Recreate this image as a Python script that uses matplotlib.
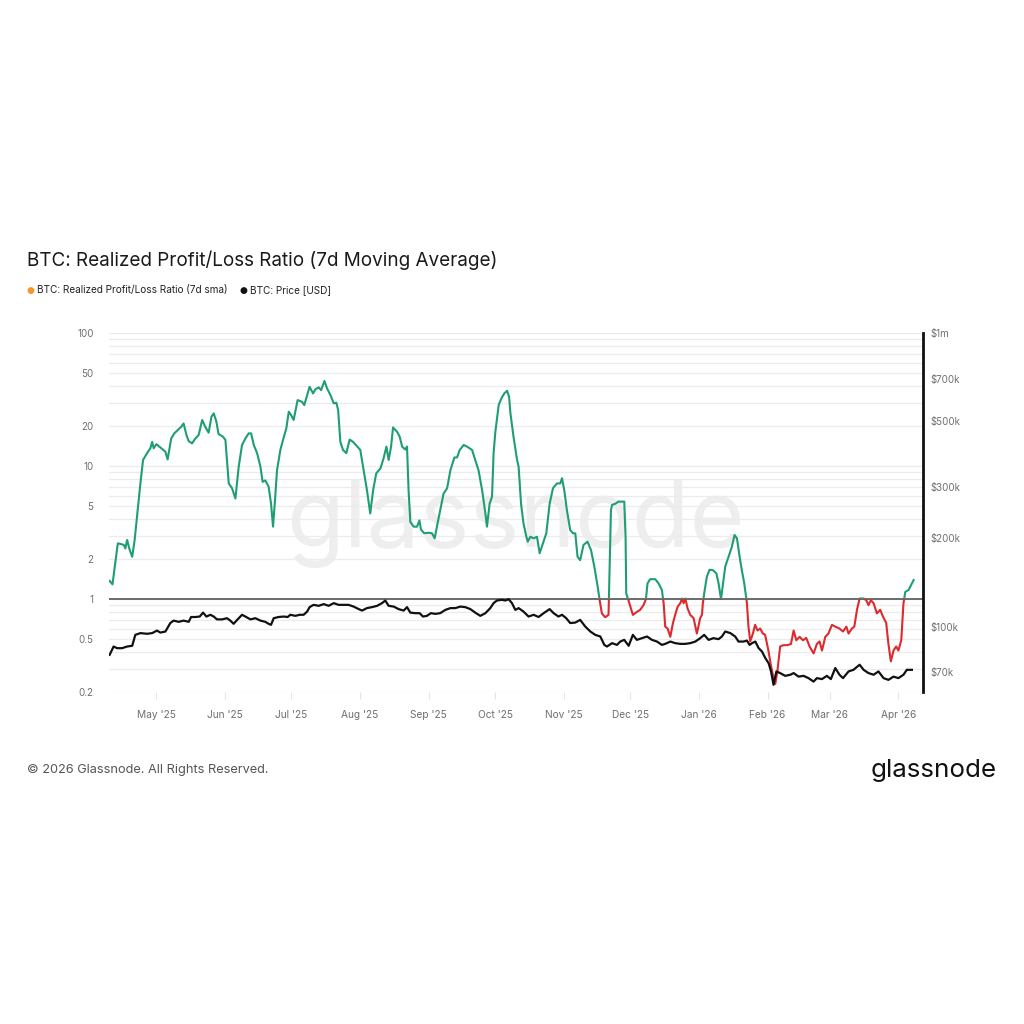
import matplotlib
matplotlib.use("Agg")
import matplotlib.pyplot as plt
import matplotlib.dates as mdates
import matplotlib.transforms as mtransforms
from matplotlib.patches import Rectangle
from matplotlib.ticker import FixedLocator, NullFormatter, NullLocator, LogLocator
import numpy as np
import pandas as pd

plt.rcParams['font.family'] = ['Inter', 'DejaVu Sans']

# ---------------- data ----------------
start_date = "2025-04-01"

ratio_day = [8.9, 10.2, 12.6, 14.1, 15.3, 16.0, 16.8, 18.0, 19.1, 20.2, 21.6, 22.8, 24.0, 25.8, 27.3,
             28.1, 28.8, 30.0, 31.8, 34.1, 35.1, 36.7, 38.1, 40.1, 41.2, 42.3, 43.6, 44.6, 46.1, 47.6,
             49.1, 50.7, 52.1, 53.6, 54.9, 55.9, 57.1, 58.1, 60.1, 61.2, 62.7, 64.2, 65.7, 67.2, 68.7,
             70.2, 71.7, 72.8, 74.0, 75.5, 77.0, 78.0, 79.2, 80.7, 81.8, 82.7, 83.7, 84.5, 86.0, 87.2,
             88.7, 89.8, 90.8, 92.0, 93.8, 95.8, 96.8, 98.3, 99.2, 100.8, 101.8, 103.3, 104.4, 105.9,
             107.1, 108.6, 110.1, 111.3, 112.1, 113.1, 114.3, 115.8, 117.3, 118.8, 120.6, 122.1, 123.6,
             125.1, 126.6, 127.9, 129.3, 131.2, 132.6, 133.9, 134.9, 136.0, 136.9, 138.7, 139.9, 141.0,
             142.4, 143.2, 143.9, 144.7, 146.2, 147.7, 148.8, 149.5, 151.0, 153.0, 154.5, 155.7, 156.7,
             158.2, 159.7, 161.3, 162.8, 164.6, 165.8, 167.0, 168.8, 170.3, 172.6, 174.0, 175.5, 177.1,
             178.6, 179.3, 180.5, 181.6, 182.3, 183.1, 184.6, 185.8, 187.1, 188.4, 189.3, 189.9, 191.3,
             192.9, 193.6, 194.7, 195.8, 197.1, 197.7, 198.9, 200.4, 201.9, 203.1, 204.6, 206.1, 207.6,
             209.1, 210.9, 212.4, 213.2, 214.2, 215.4, 216.9, 218.2, 219.2, 220.2, 221.4, 222.9, 224.7,
             226.3, 227.8, 229.3, 230.2, 231.2, 232.7, 234.2, 235.3, 235.8, 237.2, 238.7, 240.3, 241.3,
             241.9, 242.2, 243.2, 244.3, 245.2, 247.0, 248.5, 250.0, 251.1, 251.8, 253.0, 255.3, 256.8,
             258.3, 259.1, 259.8, 260.9, 262.1, 263.3, 264.3, 265.4, 266.6, 267.4, 268.1, 268.9, 269.9,
             271.1, 272.6, 274.1, 275.6, 276.4, 276.8, 277.4, 278.6, 279.8, 281.3, 282.9, 283.9, 285.0,
             285.9, 286.9, 288.4, 289.9, 291.1, 292.2, 293.4, 294.4, 295.5, 296.7, 297.4, 298.2, 299.4,
             300.4, 301.5, 302.7, 303.9, 304.9, 306.4, 307.5, 308.4, 309.5, 310.5, 311.7, 313.2, 315.0,
             316.6, 317.8, 319.0, 320.5, 322.0, 323.5, 325.0, 326.8, 328.3, 329.5, 330.6, 332.1, 333.5,
             335.1, 336.6, 338.5, 340.1, 341.6, 342.6, 344.1, 345.2, 346.4, 347.6, 349.4, 350.6, 351.6,
             352.7, 353.9, 355.4, 356.9, 358.1, 359.6, 360.6, 361.7, 362.9, 364.1, 365.1, 366.4, 367.4,
             368.2, 369.7, 370.8, 372.0]

ratio_value = [1.37, 1.29, 2.62, 2.59, 2.55, 2.4, 2.78, 2.33, 2.08, 2.78, 4.67, 7.4, 11.1, 12.5, 13.6,
               15.2, 13.6, 14.6, 13.8, 12.8, 11.2, 16.1, 17.6, 18.9, 19.7, 20.9, 17.1, 15.4, 14.8, 16.1,
               17.1, 22.2, 19.7, 17.8, 23.5, 24.9, 21.6, 17.4, 16.6, 15.7, 7.4, 6.8, 5.7, 9.9, 14.4,
               16.1, 17.6, 17.6, 14.4, 12.5, 9.9, 7.6, 7.8, 7.0, 5.2, 3.5, 5.9, 9.3, 13.2, 15.7,
               19.2, 25.6, 24.2, 22.2, 31.3, 30.4, 28.7, 35.1, 39.4, 35.1, 37.7, 39.0, 37.2, 43.6,
               38.3, 34.2, 29.6, 29.9, 26.3, 15.2, 13.2, 12.5, 15.8, 15.2, 14.1, 13.2, 9.3,
               6.6, 4.4, 6.6, 8.8, 9.6, 11.4, 14.0, 11.1, 14.0, 19.5, 18.1, 16.6, 14.0,
               13.3, 14.0, 6.6, 3.8, 3.5, 3.5, 3.9, 3.33, 3.12, 3.15, 3.12, 2.86, 3.5,
               4.67, 6.2, 6.8, 9.3, 11.6, 11.6, 13.2, 14.4, 14.0, 13.2, 11.1, 9.3, 6.6,
               4.4, 3.5, 5.2, 5.9, 12.5, 18.1, 28.7, 32.2, 35.1, 36.8, 33.1, 24.9, 16.6,
               11.1, 9.9, 5.2, 3.7, 2.94, 2.7, 2.94, 2.86, 2.94, 2.21, 2.62, 3.12, 5.2,
               6.8, 7.4, 7.4, 8.1, 6.6, 4.67, 3.3, 3.12, 3.12, 2.08, 1.96, 2.55, 2.7,
               2.33, 1.75, 1.24, 0.98, 0.78, 0.73, 0.76, 4.67, 5.1, 5.2, 5.4, 5.4, 5.4,
               2.94, 1.1, 0.98, 0.85, 0.76, 0.8, 0.83, 0.9, 1.0, 1.31, 1.41, 1.41, 1.31,
               1.17, 0.93, 0.62, 0.6, 0.52, 0.66, 0.76, 0.875, 0.93, 1.01, 0.93, 1.01, 0.85,
               0.76, 0.72, 0.55, 0.72, 0.76, 0.93, 1.1, 1.47, 1.66, 1.65, 1.56, 1.31, 1.0,
               1.31, 1.75, 2.08, 2.47, 3.03, 2.86, 2.08, 1.65, 1.31, 0.93, 0.62, 0.48, 0.55,
               0.64, 0.58, 0.6, 0.55, 0.54, 0.41, 0.32, 0.27, 0.23, 0.29, 0.44, 0.45, 0.45,
               0.46, 0.58, 0.49, 0.52, 0.49, 0.51, 0.44, 0.39, 0.46, 0.48, 0.41, 0.52, 0.55,
               0.64, 0.62, 0.6, 0.57, 0.62, 0.55, 0.6, 0.62, 0.83, 1.01, 1.01, 0.98, 0.9,
               0.98, 0.93, 0.78, 0.83, 0.74, 0.66, 0.46, 0.34, 0.41, 0.44, 0.41, 0.49, 0.93,
               1.13, 1.17, 1.27, 1.39]

price_day = [8.9, 10.7, 12.3, 14.5, 16.8, 19.1, 20.5, 22.8, 25.8, 28.1, 30.3, 31.8, 34.1, 36.3, 37.8,
             40.1, 42.3, 44.6, 45.7, 47.6, 49.6, 51.1, 52.6, 54.4, 55.9, 57.4, 59.7, 61.9, 63.4, 64.9,
             66.5, 68.7, 70.2, 72.5, 74.7, 77.0, 79.2, 80.7, 81.8, 83.0, 85.2, 87.5, 89.3, 90.5, 92.8,
             94.7, 96.5, 98.1, 99.2, 101.0, 103.3, 105.6, 107.8, 110.1, 112.3, 114.6, 116.8, 119.1,
             121.4, 122.9, 125.1, 127.4, 129.7, 131.9, 133.4, 134.9, 137.2, 139.4, 141.7, 143.2,
             144.7, 146.9, 148.9, 150.4, 152.2, 154.0, 156.0, 158.2, 160.5, 162.8, 165.0, 167.3,
             169.5, 171.8, 174.0, 176.3, 178.6, 180.8, 182.3, 183.8, 186.1, 187.6, 189.1, 190.6,
             192.1, 193.6, 195.8, 198.1, 200.4, 202.6, 204.9, 207.6, 209.4, 211.6, 213.2, 215.1,
             216.9, 219.2, 221.4, 223.7, 226.0, 228.2, 230.5, 232.3, 233.5, 235.8, 238.0, 239.5,
             241.3, 243.3, 245.2, 247.0, 249.3, 251.6, 253.8, 256.1, 258.3, 259.8, 262.1, 264.3,
             266.6, 268.9, 271.1, 273.4, 275.6, 277.4, 279.4, 281.6, 283.9, 285.4, 286.9, 289.2,
             291.4, 292.9, 295.2, 296.7, 297.9, 299.0, 300.5, 302.0, 303.5, 305.0, 306.5, 307.6,
             308.7, 310.0, 311.7, 314.0, 316.3, 317.8, 320.0, 322.3, 324.5, 326.8, 328.3, 330.6,
             332.8, 334.6, 336.6, 338.5, 340.1, 342.6, 344.8, 347.6, 349.4, 351.6, 353.9, 356.1,
             358.4, 360.6, 362.9, 365.1, 367.4, 368.9, 371.2]

price_kusd = [80.3, 85.7, 84.6, 84.6, 85.7, 86.2, 93.9, 95.2, 94.7, 95.2, 97.1, 95.6, 96.4, 103, 105,
              104, 105, 104, 108, 108, 108.4, 111.8, 108.4, 109.9, 108.4, 106, 106, 107, 105, 102.4,
              105.6, 109.9, 108.4, 106, 107, 105, 104, 102.4, 101.6, 107, 108, 108.4, 108, 109.9, 109,
              109.9, 109.9, 112.7, 116.7, 118.8, 117.9, 119.5, 117.9, 120.4, 118.8, 118.8, 118.8, 117.2,
              114.9, 113.6, 115.8, 116.7, 117.9, 120.4, 122.9, 117.9, 117.2, 114.9, 113.6, 116.7,
              111.8, 111.3, 111.3, 108.4, 109, 111.3, 110.7, 111.3, 114.2, 115.8, 115.8, 117.2,
              116.7, 114.9, 111.8, 109, 111.3, 115.8, 120.4, 122.9, 123.6, 122.9, 124.2, 120.4,
              114.2, 115.8, 112.7, 108.4, 109.9, 108, 111.3, 114.9, 111.3, 108.4, 109.9, 107,
              103, 103.4, 105.6, 100.2, 96.4, 93.9, 92.7, 86.8, 85.7, 88, 86.8, 89.1,
              90.3, 86.2, 93.9, 90.3, 91.5, 92.7, 90.3, 89.1, 86.8, 87.5, 89.1, 88,
              87.5, 87.5, 88, 89.1, 91.5, 93.9, 90.3, 91.5, 90.8, 92.7, 96.4, 95.2,
              92.7, 89.1, 89.1, 89.8, 86.8, 88, 89.1, 84.6, 82.4, 78.3, 75.2, 70.5,
              63.5, 70.5, 69.6, 68.1, 68.7, 69.6, 67.7, 68.1, 66.9, 65.1, 66.9, 66.4,
              68.1, 66.4, 72.4, 68.7, 66.9, 70.5, 71.4, 74.3, 71.4, 69.6, 68.7, 70.5,
              66.9, 66, 67.7, 66.9, 68.7, 71.4, 71.4]

ratio_ticks = [0.2, 0.5, 1, 2, 5, 10, 20, 50, 100]
ratio_tick_labels = ["0.2", "0.5", "1", "2", "5", "10", "20", "50", "100"]
price_ticks = [70000, 100000, 200000, 300000, 500000, 700000, 1000000]
price_tick_labels = ["$70k", "$100k", "$200k", "$300k", "$500k", "$700k", "$1m"]
month_ticks = ["2025-05-01", "2025-06-01", "2025-07-01", "2025-08-01", "2025-09-01", "2025-10-01",
               "2025-11-01", "2025-12-01", "2026-01-01", "2026-02-01", "2026-03-01", "2026-04-01"]
month_labels = ["May '25", "Jun '25", "Jul '25", "Aug '25", "Sep '25", "Oct '25",
                "Nov '25", "Dec '25", "Jan '26", "Feb '26", "Mar '26", "Apr '26"]

# ---------------- styling ----------------
GREEN = "#1e9e72"
RED = "#dc2a2f"
GRID = "#ececec"
TICK_COLOR = "#6f6f6f"

start = pd.Timestamp(start_date)
ratio_dates = start + pd.to_timedelta(ratio_day, unit="D")
price_dates = start + pd.to_timedelta(price_day, unit="D")
price_usd = np.array(price_kusd) * 1000.0

fig = plt.figure(figsize=(10.24, 10.24), dpi=100)
fig.patch.set_facecolor("white")

ax = fig.add_axes([0.1064, 0.3242, 0.7945, 0.3506])
ax.set_yscale("log")
ax.set_ylim(0.2, 100)
ax.set_xlim(start + pd.Timedelta(days=8.6), start + pd.Timedelta(days=376))

# gridlines (major + minor log)
ax.yaxis.set_major_locator(FixedLocator(ratio_ticks))
ax.set_yticklabels(ratio_tick_labels)
ax.yaxis.set_minor_locator(LogLocator(base=10, subs=np.arange(2, 10)))
ax.yaxis.set_minor_formatter(NullFormatter())
ax.grid(which="both", axis="y", color=GRID, lw=0.9, zorder=0)
ax.tick_params(axis="y", which="both", length=0, pad=11, labelsize=7, labelcolor=TICK_COLOR)

ax.xaxis.set_major_locator(FixedLocator(mdates.date2num(pd.to_datetime(month_ticks))))
ax.set_xticklabels(month_labels)
ax.tick_params(axis="x", length=5, color="#e4e4e4", pad=8, labelsize=7.3, labelcolor=TICK_COLOR)

for s in ax.spines.values():
    s.set_visible(False)

# watermark
ax.text(0.5, 0.47, "glassnode", transform=ax.transAxes, ha="center", va="center",
        fontsize=68, color="#eeeeee", zorder=0.5)

# ratio line, green above 1 and red below 1
blend = mtransforms.blended_transform_factory(ax.transAxes, ax.transData)
above = Rectangle((0, 1), 1, 1e4, transform=blend, facecolor="none", edgecolor="none")
below = Rectangle((0, 1e-4), 1, 1 - 1e-4, transform=blend, facecolor="none", edgecolor="none")
ax.add_patch(above)
ax.add_patch(below)
g_line, = ax.plot(ratio_dates, ratio_value, color=GREEN, lw=1.5, zorder=3)
r_line, = ax.plot(ratio_dates, ratio_value, color=RED, lw=1.5, zorder=3)
g_line.set_clip_path(above)
r_line.set_clip_path(below)

ax.axhline(1, color="#555555", lw=1.2, zorder=2)

# price axis
ax2 = ax.twinx()
ax2.set_yscale("log")
ax2.set_ylim(60000, 1000000)
ax2.plot(price_dates, price_usd, color="#111111", lw=1.6, zorder=3)
ax2.yaxis.set_major_locator(FixedLocator(price_ticks))
ax2.set_yticklabels(price_tick_labels)
ax2.yaxis.set_minor_locator(NullLocator())
ax2.tick_params(axis="y", which="both", length=0, pad=6, labelsize=7, labelcolor=TICK_COLOR)
for name, s in ax2.spines.items():
    s.set_visible(name == "right")
ax2.spines["right"].set_color("#111111")
ax2.spines["right"].set_linewidth(2)

# titles, legend, footer
fig.text(0.0264, 1 - 260 / 1024, "BTC: Realized Profit/Loss Ratio (7d Moving Average)",
         fontsize=13.6, color="#1a1a1a", ha="left", va="center")
fig.text(30 / 1024, 1 - 290 / 1024, "●", color="#f2992e", fontsize=6.5, ha="center", va="center",
         family=["DejaVu Sans"])
fig.text(37 / 1024, 1 - 290 / 1024, "BTC: Realized Profit/Loss Ratio (7d sma)", fontsize=7.2,
         color="#222222", ha="left", va="center")
fig.text(243 / 1024, 1 - 290 / 1024, "●", color="#111111", fontsize=6.5, ha="center", va="center",
         family=["DejaVu Sans"])
fig.text(250 / 1024, 1 - 290 / 1024, "BTC: Price [USD]", fontsize=7.2,
         color="#222222", ha="left", va="center")

fig.text(0.0264, 1 - 770 / 1024, "© 2026 Glassnode. All Rights Reserved.", fontsize=9.2,
         color="#555555", ha="left", va="center")
fig.text(997 / 1024, 1 - 770 / 1024, "glassnode", fontsize=18.7, color="#111111",
         ha="right", va="center")

fig.savefig("out.png", dpi=100, facecolor="white")
